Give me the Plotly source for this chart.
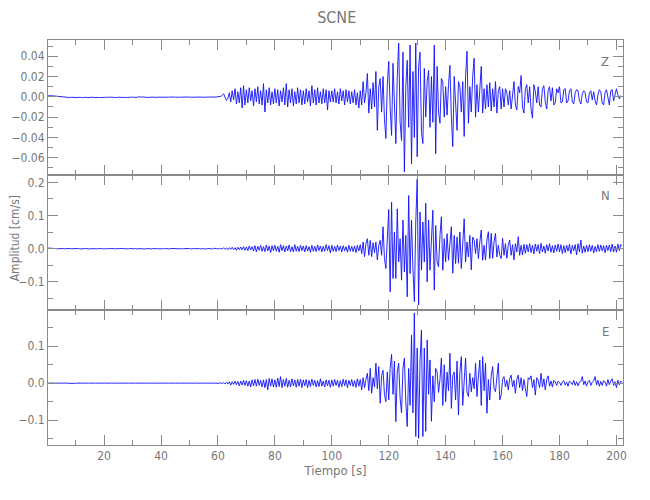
import plotly.graph_objects as go
from plotly.subplots import make_subplots

DT = 0.5

# Vertical component Z [cm/s], samples every 0.5 s from t = 0
z_vals = [
    .0010, .0012, .0009, .0011, .0010, .0008, .0009, .0006, .0004, .0002, .0000, -.0003, -.0004, -.0006, -.0003, -.0005, -.0007, -.0004, -.0006, -.0005,
    -.0004, -.0007, -.0005, -.0003, -.0006, -.0008, -.0005, -.0004, -.0007, -.0005, -.0003, -.0006, -.0004, -.0007, -.0005, -.0004, -.0006, -.0008, -.0005, -.0004,
    -.0006, -.0004, -.0007, -.0005, -.0003, -.0006, -.0004, -.0005, -.0007, -.0004, -.0005, -.0003, -.0006, -.0004, -.0002, -.0005, -.0007, -.0004, -.0005, -.0003,
    -.0004, -.0006, -.0003, -.0005, -.0002, .0002, -.0004, .0001, -.0003, -.0005, -.0002, -.0004, -.0006, -.0003, -.0005, -.0004, -.0002, -.0005, -.0003, -.0004,
    -.0002, -.0004, -.0003, -.0005, -.0002, -.0004, -.0003, -.0001, -.0004, -.0002, -.0003, -.0005, -.0002, -.0004, -.0003, -.0002, -.0004, -.0003, -.0001, -.0003,
    -.0002, -.0004, -.0003, -.0002, -.0004, -.0003, -.0001, -.0003, -.0002, -.0004, -.0003, -.0002, -.0003, -.0001, -.0002, -.0004, -.0002, -.0001, -.0003, -.0002,
    -.0001, .0000, .0005, .0015, .0030, -.0005, -.0035, -.0015, .0040, -.0050, .0060, -.0030, .0080, -.0070, .0050, -.0060, .0090, -.0110, .0110, -.0080,
    .0070, -.0060, .0090, -.0040, .0060, -.0090, .0080, -.0050, .0100, -.0070, .0060, -.0080, .0130, -.0150, .0070, -.0060, .0090, -.0080, .0050, -.0070,
    .0080, -.0060, .0070, -.0090, .0060, -.0050, .0090, -.0080, .0130, -.0100, .0070, -.0060, .0080, -.0090, .0050, -.0070, .0090, -.0060, .0070, -.0080,
    .0060, -.0070, .0080, -.0050, .0060, -.0090, .0110, -.0060, .0070, -.0080, .0090, -.0060, .0050, -.0070, .0080, -.0060, .0070, -.0130, .0060, -.0050,
    .0060, -.0050, .0080, -.0060, .0050, -.0070, .0080, -.0040, .0060, -.0080, .0070, -.0050, .0060, -.0070, .0050, -.0060, .0070, -.0080, .0040, -.0110,
    .006, -.008, .015, -.006, .004, .023, -.016, .008, -.012, .014, -.010, .025, -.033, .010, .018, -.015, .020, -.022, -.041, .012,
    .035, -.010, -.038, .033, -.012, -.046, .020, .053, -.025, -.043, .044, -.074, .010, .036, -.030, .051, -.066, .025, -.040, .053,
    -.059, .030, .044, -.035, -.046, .028, -.020, .015, .026, -.030, .020, -.025, .051, -.056, .030, -.015, -.026, .018, .015, -.020,
    .010, -.018, .012, .031, -.020, -.049, .020, -.010, -.033, .015, .010, -.015, .015, -.039, .020, .045, -.026, .010, -.015, .020,
    .038, -.020, .012, -.015, .010, .030, -.016, .008, -.012, .012, -.010, .014, -.014, .008, -.010, .015, -.016, .006, .010, -.012,
    .008, -.010, .008, .004, -.008, .006, -.012, .006, .015, -.008, -.013, .010, .004, .021, -.010, -.016, .008, .012, -.006, .010,
    -.012, -.021, .012, .005, -.006, .010, -.008, -.010, .008, .011, -.005, -.012, .006, .010, -.004, .009, -.008, -.006, .008, .004,
    .010, -.006, -.005, .007, .008, -.006, -.004, .006, .008, -.005, -.007, .004, .007, .006, -.004, -.007, .003, .006, .004, -.005,
    -.006, .004, .006, -.003, .005, -.004, -.008, .002, .007, .005, -.006, -.008, .004, .007, -.002, -.008, .006, .007, -.004, .003,
    .008, .002, -.002, .001, .000,
]

# North component N [cm/s]
n_vals = [
    .002, .002, .0015, .001, .001, .0005, .000, -.0005, .000, -.0005, .000, .0005, -.0005, .000, -.001, .000, .0005, -.0005, .000, -.0005,
    .000, -.0005, .0005, -.001, .000, -.0005, .000, .0005, -.0005, .000, -.001, .000, -.0005, .0005, .000, -.0005, .000, -.001, .000, -.0005,
    .0005, -.0005, .000, -.001, .000, .0005, -.0005, .000, -.0005, .000, -.001, .000, .0005, -.0005, .000, -.0005, .000, -.001, .0005, -.0005,
    .000, -.0005, .0005, -.001, .000, -.0005, .001, -.0005, .000, -.001, .0005, -.0005, .000, -.001, .000, .0005, -.001, .000, -.0005, .0005,
    -.0005, .000, -.001, .0005, -.0005, .000, -.001, .0005, .000, -.0005, .001, -.001, .000, -.0005, .0005, -.001, .000, .0005, -.001, .000,
    .0005, -.001, .000, .0005, -.0005, -.001, .000, .0005, -.001, .000, -.0005, .001, -.001, .0005, -.0005, .000, -.001, .001, -.0005, .000,
    .000, -.001, .001, -.001, .002, -.002, .002, -.003, .003, -.002, .004, -.003, .003, -.005, .004, -.003, .005, -.004, .006, -.005,
    .005, -.006, .008, -.004, .006, -.007, .009, -.010, .007, -.005, .010, -.008, .006, -.009, .011, -.007, .008, -.012, .009, -.006,
    .010, -.008, .007, -.011, .012, -.006, .009, -.010, .008, -.007, .011, -.009, .006, -.010, .012, -.008, .007, -.009, .010, -.006,
    .008, -.010, .009, -.007, .006, -.011, .010, -.008, .007, -.009, .011, -.006, .008, -.010, .007, -.008, .012, -.006, .009, -.013,
    .010, -.008, .007, -.009, .011, -.006, .008, -.010, .009, -.007, .006, -.011, .010, -.008, .007, -.009, .008, -.012, .010, -.007,
    .012, -.015, .020, -.024, .015, .030, -.020, .025, -.024, .018, -.012, .020, -.034, .010, .025, -.020, .066, -.030, -.060, .040,
    .118, -.130, .140, -.090, .050, -.090, .120, -.040, .030, -.095, .086, -.070, .040, -.145, .160, -.075, .086, -.060, -.160, .080,
    .210, -.170, .110, -.065, .080, -.040, .137, -.100, .086, -.065, .050, .116, -.125, .070, -.040, -.055, .040, .096, -.065, .030,
    -.040, .045, -.035, .020, .066, -.074, .040, -.045, .035, -.044, .050, -.060, .030, .090, -.040, .020, -.025, .040, -.064, .035,
    .025, -.015, .030, -.030, .020, .056, -.035, .010, -.034, .026, .051, -.030, .046, -.029, .020, .046, -.025, .010, -.020, -.030,
    .031, -.020, .015, -.029, .010, .026, -.020, .012, -.034, .015, -.010, .036, -.020, .010, -.019, .013, -.014, .012, -.010, .015,
    -.012, .010, -.016, .014, -.008, .012, -.015, .016, -.010, .008, -.014, .012, -.007, .015, -.011, .009, -.013, .011, -.008, .014,
    -.010, .012, -.015, .009, -.012, .010, -.008, .013, -.016, .010, -.006, .012, -.019, .015, -.010, .026, -.014, .008, -.011, .010,
    -.009, .012, -.008, .010, -.013, .007, -.010, .012, -.008, .011, -.007, .009, -.012, .010, -.006, .011, -.009, .014, -.010, .008,
    -.011, .014, -.006, .012, .009,
]

# East component E [cm/s]
e_vals = [
    .000, .0005, .000, -.0005, .000, .0005, .000, -.0005, .000, .0005, .000, -.0005, .000, .0005, .000, -.0005, .000, .0005, .000, -.0005,
    .000, .0005, .000, -.0005, .000, .0005, .000, -.0005, .000, .0005, .000, -.0005, .000, .0005, .000, -.0005, .000, .0005, .000, -.0005,
    .000, .0005, .000, -.0005, .000, .0005, .000, -.0005, .000, .0005, .000, -.0005, .000, .0005, .000, -.0005, .000, .0005, .000, -.0005,
    .000, .0005, .000, -.0005, .000, .0005, .000, -.0005, .000, .0005, .000, -.0005, .000, .0005, .000, -.0005, .000, .0005, .000, -.0005,
    .000, .0005, .000, -.0005, .000, .0005, .000, -.0005, .000, .0005, .000, -.0005, .000, .0005, .000, -.0005, .000, .0005, .000, -.0005,
    .000, .0005, .000, -.0005, .000, .0005, .000, -.0005, .000, .0005, .000, -.0005, .000, .0005, .000, -.0005, .000, .0005, .000, -.0005,
    .000, .000, .001, -.001, .002, -.002, .003, -.002, .004, -.005, .004, -.003, .006, -.004, .005, -.007, .006, -.005, .008, -.006,
    .007, -.008, .006, -.010, .009, -.007, .010, -.008, .011, -.006, .008, -.010, .009, -.012, .010, -.018, .013, -.008, .012, -.010,
    .009, -.011, .014, -.009, .018, -.012, .010, -.008, .013, -.011, .008, -.010, .012, -.007, .009, -.011, .010, -.008, .011, -.012,
    .009, -.007, .010, -.012, .008, -.009, .011, -.006, .008, -.010, .007, -.009, .012, -.008, .006, -.010, .009, -.007, .008, -.011,
    .009, -.008, .010, -.006, .008, -.011, .007, -.009, .011, -.007, .009, -.012, .008, -.006, .010, -.009, .007, -.011, .012, -.008,
    .010, -.018, .015, -.012, .010, .027, -.020, .040, -.027, .015, -.010, .054, -.015, .045, -.054, .020, .035, -.030, -.050, .030,
    -.045, .040, .078, -.030, .060, -.104, .030, .054, -.040, -.080, .040, .068, -.050, -.117, .040, -.060, .130, -.080, .190, -.144,
    .095, -.149, .060, .144, -.144, .095, -.130, .117, -.030, .063, -.103, .020, -.050, .040, .030, -.025, .010, .068, -.060, .050,
    -.050, .030, -.020, .081, -.068, .020, .030, -.045, .060, -.086, .030, .072, -.060, .020, .068, -.025, -.036, .027, -.023, .015,
    -.015, .054, -.036, .020, .063, -.060, .072, -.020, .054, -.081, .010, -.045, .020, .045, -.015, -.023, .020, .054, -.045, -.032,
    .010, .018, -.010, .008, -.018, .012, .022, -.010, .008, -.027, .010, .022, -.012, .015, -.020, .010, -.015, -.036, .015, .010,
    .020, -.012, .010, -.032, .015, .008, -.012, .027, -.010, .012, -.018, .010, .020, -.008, .006, -.010, .008, .004, -.006, .006,
    .002, -.006, .004, .007, -.005, .003, -.008, .006, .002, -.004, .008, -.006, .004, -.007, .003, .005, .018, -.004, .006, -.008,
    .004, .008, -.006, .003, .006, .018, -.004, .008, -.008, .005, -.006, .007, .003, -.008, .010, -.004, .006, .012, -.006, .004,
    -.012, .008, -.004, .006, .002,
]

components = ["Z", "N", "E"]
series = [z_vals, n_vals, e_vals]
y_ranges = [[-0.077, 0.056], [-0.185, 0.222], [-0.167, 0.198]]
y_dticks = [0.02, 0.1, 0.1]
y_minor = [0.01, 0.05, 0.05]
y_formats = [".2f", ".1f", ".1f"]
x_range = [0.3, 202.3]

FONT = "Liberation Sans Narrow, DejaVu Sans Condensed, Liberation Sans, sans-serif"
GRAY = "#777777"
AXC = "#8a8a8a"

fig = make_subplots(rows=3, cols=1, shared_xaxes=True, vertical_spacing=0)

for i, vals in enumerate(series):
    t = [k * DT for k in range(len(vals))]
    fig.add_trace(
        go.Scatter(x=t, y=vals, mode="lines",
                   line=dict(color="#1010ff", width=0.9),
                   showlegend=False, hoverinfo="skip"),
        row=i + 1, col=1,
    )
    fig.update_yaxes(
        range=y_ranges[i], dtick=y_dticks[i], tick0=0, tickformat=y_formats[i],
        minor=dict(dtick=y_minor[i], tick0=0, ticks="inside", ticklen=5, tickcolor=AXC),
        row=i + 1, col=1,
    )

fig.update_xaxes(
    range=x_range, dtick=20, tick0=0, automargin=False,
    showline=True, linecolor=AXC, linewidth=1, mirror="ticks",
    ticks="inside", ticklen=10, tickcolor=AXC,
    minor=dict(dtick=10, tick0=0, ticks="inside", ticklen=5, tickcolor=AXC),
    showgrid=False, zeroline=False,
    tickfont=dict(family=FONT, size=12, color=GRAY),
)
fig.update_yaxes(
    automargin=False,
    showline=True, linecolor=AXC, linewidth=1, mirror="ticks",
    ticks="inside", ticklen=10, tickcolor=AXC,
    showgrid=False, zeroline=False,
    tickfont=dict(family=FONT, size=12, color=GRAY),
)
fig.update_xaxes(title=dict(text="Tiempo [s]", font=dict(family=FONT, size=13, color=GRAY), standoff=2), row=3, col=1)

# shared y-axis title, placed beside the middle panel
fig.add_annotation(text="Amplitud [cm/s]", xref="paper", yref="paper", x=-0.057, y=0.511,
                   xanchor="center", yanchor="middle", textangle=-90, showarrow=False,
                   font=dict(family=FONT, size=12, color=GRAY))

label_y = [0.948, 0.615, 0.281]
for name, yy in zip(components, label_y):
    fig.add_annotation(text=name, xref="paper", yref="paper", x=0.969, y=yy,
                       xanchor="center", yanchor="middle",
                       showarrow=False, font=dict(family=FONT, size=13, color=GRAY))

# the page body has an 8 px default margin, so the figure is sized to fit the window
fig.update_layout(
    width=642, height=492,
    margin=dict(l=40, r=27, t=32, b=55),
    paper_bgcolor="white", plot_bgcolor="white",
    title=dict(text="SCNE", x=0.512, xanchor="center", y=0.98, yanchor="middle",
               font=dict(family=FONT, size=16, color=GRAY)),
)

fig.write_html("out.html")
